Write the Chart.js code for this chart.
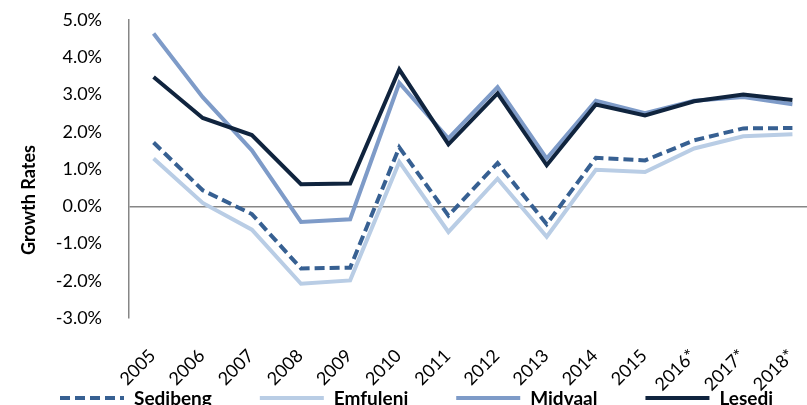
<!DOCTYPE html>
<html>
<head>
<meta charset="utf-8">
<script src="https://cdn.jsdelivr.net/npm/chart.js@4/dist/chart.umd.min.js"></script>
<style>
  html, body { margin: 0; padding: 0; background: #ffffff; overflow: hidden; }
  #wrap { width: 817px; height: 405px; position: relative; }
</style>
</head>
<body>
<div id="wrap"><canvas id="c" width="817" height="405"></canvas></div>
<script>
// Annual growth rates (%) by municipality; * = forecast years
const years = ['2005', '2006', '2007', '2008', '2009', '2010', '2011', '2012', '2013', '2014', '2015', '2016*', '2017*', '2018*'];
const sedibeng = [1.71, 0.43, -0.21, -1.67, -1.65, 1.58, -0.25, 1.16, -0.48, 1.30, 1.23, 1.77, 2.09, 2.10];
const emfuleni = [1.28, 0.09, -0.63, -2.08, -1.99, 1.19, -0.69, 0.74, -0.82, 0.98, 0.92, 1.55, 1.88, 1.93];
const midvaal  = [4.64, 2.93, 1.50, -0.42, -0.35, 3.31, 1.82, 3.20, 1.28, 2.83, 2.50, 2.83, 2.93, 2.74];
const lesedi   = [3.47, 2.37, 1.91, 0.59, 0.61, 3.67, 1.66, 3.03, 1.10, 2.73, 2.44, 2.82, 3.00, 2.85];
const yTicks = { min: -3, max: 5, step: 1 };
const yTitle = 'Growth Rates';

const FONT = 'Lato, "Open Sans", sans-serif';
const AXIS_GREY = '#868686';

// Rotated y-axis title, drawn beside the tick labels
const yTitlePlugin = {
  id: 'yTitle',
  afterDraw(chart) {
    const ctx = chart.ctx;
    ctx.save();
    ctx.translate(29, 200);
    ctx.rotate(-Math.PI / 2);
    ctx.font = 'bold 18px ' + FONT;
    ctx.fillStyle = '#000000';
    ctx.textAlign = 'center';
    ctx.textBaseline = 'middle';
    ctx.fillText(yTitle, 0, 0);
    ctx.restore();
  }
};

// Single-row legend along the bottom edge
const bottomLegend = {
  id: 'bottomLegend',
  afterDraw(chart) {
    const ctx = chart.ctx;
    const y = 398;
    const lineLen = 64, textGap = 10, itemGap = 48;
    let x = 60;
    ctx.save();
    ctx.font = 'bold 19px ' + FONT;
    ctx.textBaseline = 'middle';
    ctx.textAlign = 'left';
    chart.data.datasets.forEach(ds => {
      ctx.beginPath();
      ctx.setLineDash(ds.borderDash || []);
      ctx.lineWidth = ds.borderWidth;
      ctx.strokeStyle = ds.borderColor;
      ctx.lineCap = 'butt';
      ctx.moveTo(x, y);
      ctx.lineTo(x + lineLen, y);
      ctx.stroke();
      ctx.setLineDash([]);
      ctx.fillStyle = '#000000';
      const tx = x + lineLen + textGap;
      ctx.fillText(ds.label, tx, y + 1);
      x = tx + ctx.measureText(ds.label).width + itemGap;
    });
    ctx.restore();
  }
};

new Chart(document.getElementById('c'), {
  type: 'line',
  data: {
    labels: years,
    datasets: [
      { label: 'Sedibeng', data: sedibeng, borderColor: '#376092', borderWidth: 4, borderDash: [10, 5], order: 4 },
      { label: 'Emfuleni', data: emfuleni, borderColor: '#B9CDE5', borderWidth: 4, order: 3 },
      { label: 'Midvaal',  data: midvaal,  borderColor: '#7E9BC8', borderWidth: 4, order: 2 },
      { label: 'Lesedi',   data: lesedi,   borderColor: '#10243E', borderWidth: 4, order: 1 }
    ]
  },
  options: {
    responsive: false,
    animation: false,
    events: [],
    layout: { padding: { left: 0, right: 0, top: 20, bottom: 0 } },
    elements: {
      point: { radius: 0 },
      line: { tension: 0, fill: false, borderJoinStyle: 'miter', borderCapStyle: 'butt' }
    },
    plugins: {
      legend: { display: false },
      tooltip: { enabled: false }
    },
    scales: {
      x: {
        offset: true,
        grid: { display: false, drawTicks: false },
        border: { display: false },
        ticks: {
          color: '#000000',
          font: { family: FONT, size: 18 },
          maxRotation: 45,
          minRotation: 45,
          autoSkip: false,
          padding: 27,
          labelOffset: -1
        },
        afterFit(scale) {
          scale.height = 87;
          scale.paddingLeft = 0;
          scale.paddingRight = 0;
        }
      },
      y: {
        min: yTicks.min,
        max: yTicks.max,
        grid: {
          drawTicks: false,
          lineWidth: 1.5,
          color: ctx => (ctx.tick && ctx.tick.value === 0) ? AXIS_GREY : 'rgba(0,0,0,0)'
        },
        border: { display: true, color: AXIS_GREY, width: 1.5 },
        ticks: {
          stepSize: yTicks.step,
          color: '#000000',
          font: { family: FONT, size: 18 },
          padding: 27,
          callback: v => v.toFixed(1) + '%'
        },
        afterFit(scale) {
          scale.width = 129;
          scale.paddingTop = 0;
          scale.paddingBottom = 0;
        }
      }
    }
  },
  plugins: [yTitlePlugin, bottomLegend]
});
</script>
</body>
</html>
